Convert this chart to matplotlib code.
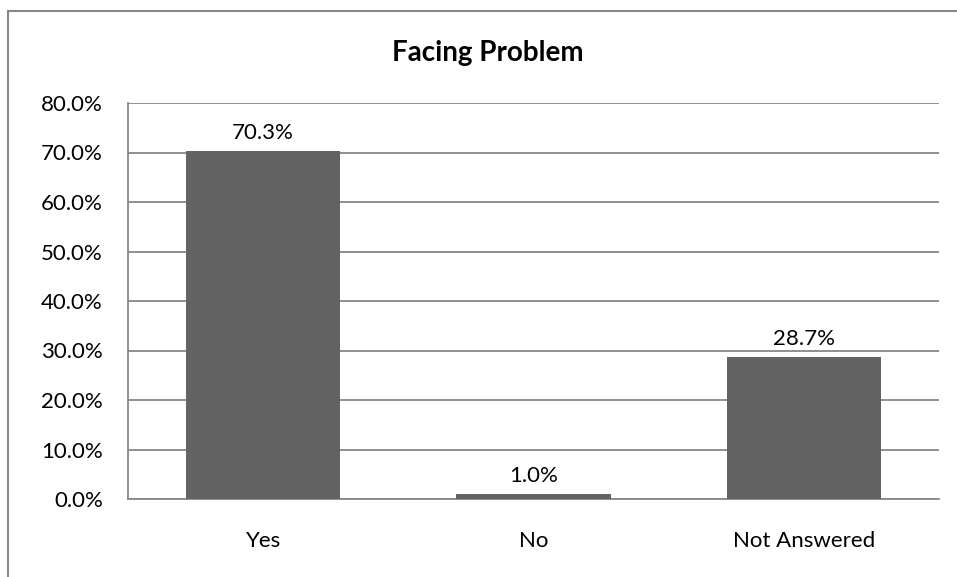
import matplotlib
matplotlib.use("Agg")
import matplotlib.pyplot as plt
from matplotlib.lines import Line2D
from matplotlib.ticker import FuncFormatter, MultipleLocator

categories = ["Yes", "No", "Not Answered"]
values = [70.3, 1.0, 28.7]
title = "Facing Problem"

plt.rcParams['font.family'] = ['Lato', 'DejaVu Sans']

W, H = 957, 577
fig = plt.figure(figsize=(W / 100, H / 100), dpi=100)
ax = fig.add_axes([128 / W, 1 - 499 / H, (939 - 128) / W, (499 - 103) / H])

grid_c = "#878787"
bar_c = "#636363"
fs = 16

x = range(len(categories))
bars = ax.bar(x, values, width=0.57, color=bar_c, zorder=3)
ax.set_xlim(-0.5, len(categories) - 0.5)
ax.set_ylim(0, 80)
ax.yaxis.set_major_locator(MultipleLocator(10))
ax.yaxis.set_major_formatter(FuncFormatter(lambda v, p: f"{v:.1f}%"))
ax.set_xticks(list(x))
ax.set_xticklabels(categories)
ax.grid(axis='y', color=grid_c, linewidth=1.3, zorder=0)
ax.set_axisbelow(True)
for s in ['top', 'right']:
    ax.spines[s].set_visible(False)
for s in ['left', 'bottom']:
    ax.spines[s].set_color(grid_c)
    ax.spines[s].set_linewidth(1.3)
ax.tick_params(axis='y', length=0, pad=18, labelsize=fs)
ax.tick_params(axis='x', length=0, pad=23, labelsize=fs)

for xi, v in zip(x, values):
    ax.annotate(f"{v:.1f}%", (xi, v), xytext=(0, 6), textcoords='offset points',
                ha='center', va='bottom', fontsize=fs)

fig.text(488 / W, 1 - 53 / H, title, ha='center', va='center',
         fontsize=20, fontweight='bold')

fig.add_artist(Line2D([8 / W, 8 / W], [0, 1 - 11 / H], transform=fig.transFigure,
                      color=grid_c, linewidth=1.5))
fig.add_artist(Line2D([8 / W, 1], [1 - 11 / H, 1 - 11 / H], transform=fig.transFigure,
                      color=grid_c, linewidth=1.5))

fig.savefig("out.png", dpi=100, facecolor="white")
